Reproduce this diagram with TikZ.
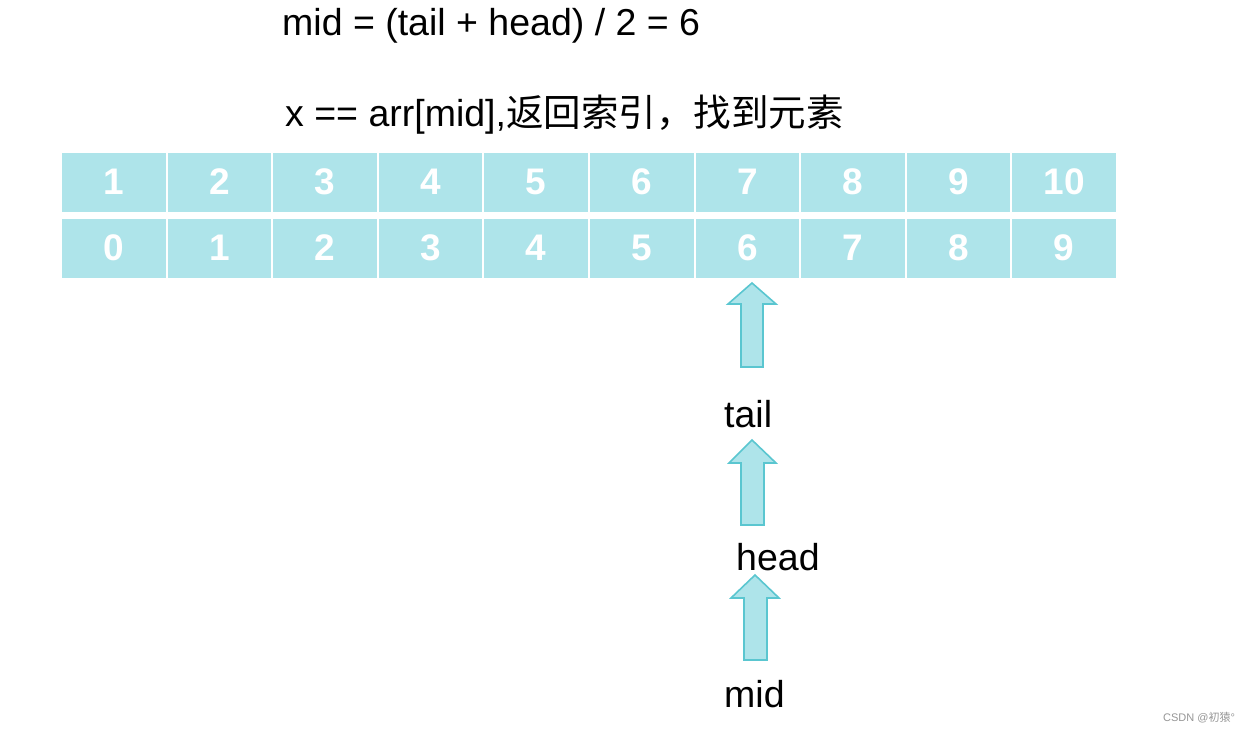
\documentclass[tikz,border=0pt]{standalone}
\usepackage{fontspec}
\setmainfont{Liberation Sans}
\newfontfamily\cjk{Noto Sans CJK SC}
\definecolor{cellfill}{RGB}{174,228,234}
\definecolor{arrowline}{RGB}{90,198,208}
\definecolor{wm}{RGB}{150,150,150}
\begin{document}
\begin{tikzpicture}[x=1pt,y=-1pt,
  cell/.style={fill=cellfill,minimum width=103.6pt,minimum height=59pt,inner sep=0pt,
    text=white,font=\fontsize{37}{40}\selectfont\bfseries},
  lbl/.style={inner sep=0pt,anchor=base west,font=\fontsize{37.5}{40}\selectfont},
  blockarrow/.style={fill=cellfill,draw=arrowline,line width=1.6pt,line join=miter}]
\useasboundingbox (0,0) rectangle (1256,732);
\fill[white] (0,0) rectangle (1256,732);
% table
\foreach \i [evaluate=\i as \cx using 61+105.6*(\i-1)+52.8, evaluate=\i as \v using int(\i), evaluate=\i as \w using int(\i-1)] in {1,...,10}{
  \node[cell] (a\v) at (\cx,182) {\v};
  \node[cell] (b\v) at (\cx,248) {\w};
}
% texts
\node[lbl] (t1) at (282,35) {mid = (tail + head) / 2 = 6};
\node[lbl] (t2) at (285,126) {x == arr[mid],{\cjk 返回索引，找到元素}};
% arrows
\draw[blockarrow] (752,283) -- (776,304) -- (763,304) -- (763,367) -- (741,367) -- (741,304) -- (728,304) -- cycle;
\draw[blockarrow] (752,440) -- (776,463) -- (764,463) -- (764,525) -- (741,525) -- (741,463) -- (729,463) -- cycle;
\draw[blockarrow] (755,575) -- (779,598) -- (767,598) -- (767,660) -- (744,660) -- (744,598) -- (731,598) -- cycle;
% labels
\node[lbl] (tail) at (724,427) {tail};
\node[lbl] (head) at (736,570) {head};
\node[lbl] (mid) at (724,707) {mid};
% watermark
\node[inner sep=0pt,anchor=base west,text=wm,font=\fontsize{11}{12}\selectfont] (wmk) at (1163,721) {CSDN @{\cjk 初猿}°};
\end{tikzpicture}
\end{document}
